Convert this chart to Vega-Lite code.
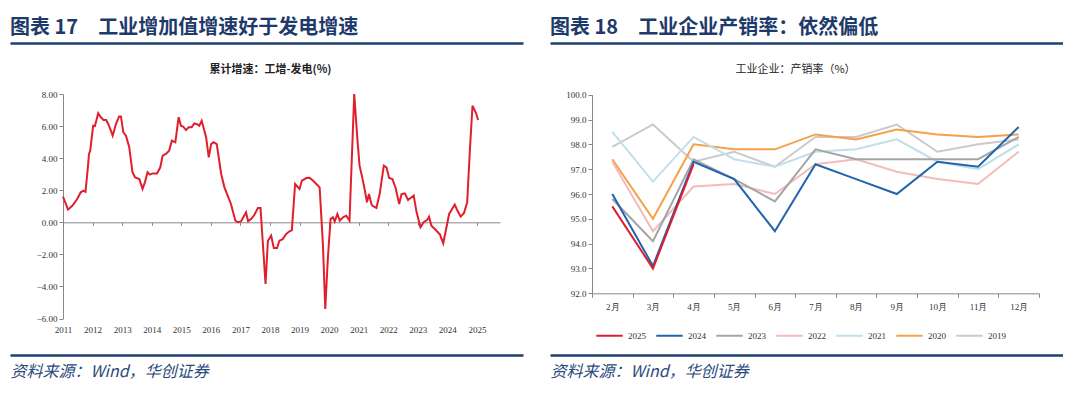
{
  "$schema": "https://vega.github.io/schema/vega-lite/v6.json",
  "padding": {"left": 10, "top": 18, "right": 0, "bottom": 20},
  "config": {"view": {"stroke": null}, "font": "Noto Sans CJK SC"},
  "spacing": 27,
  "resolve": {"scale": {"color": "independent"}, "legend": {"color": "independent"}},
  "hconcat": [
    {
      "width": 513,
      "height": 312,
      "title": {"text": "图表 17　工业增加值增速好于发电增速", "anchor": "start", "frame": "group", "fontSize": 20, "fontWeight": "bold", "color": "#1d3a6b", "font": "Noto Sans CJK SC", "offset": 2},
      "layer": [
        {
          "data": {"values": [{"edge": 0}, {"edge": 1}]},
          "mark": {"type": "point", "opacity": 0},
          "encoding": {
            "y": {"field": "edge", "type": "quantitative", "scale": {"domain": [0, 1], "nice": false},
              "axis": {"orient": "right", "grid": true, "gridColor": "#1f3e74", "gridWidth": 2.5, "values": [0, 1], "labels": false, "ticks": false, "domain": false, "title": null}}
          }
        },
        {
          "data": {"values": [
            {"t": 2011.00, "v": 1.6}, {"t": 2011.17, "v": 0.79}, {"t": 2011.32, "v": 1.04}, {"t": 2011.48, "v": 1.45}, {"t": 2011.60, "v": 1.87}, {"t": 2011.69, "v": 1.97}, {"t": 2011.76, "v": 1.9}, {"t": 2011.82, "v": 3.0}, {"t": 2011.88, "v": 4.26}, {"t": 2011.92, "v": 4.46},
            {"t": 2012.02, "v": 6.02}, {"t": 2012.08, "v": 6.0}, {"t": 2012.19, "v": 6.8}, {"t": 2012.28, "v": 6.55}, {"t": 2012.37, "v": 6.38}, {"t": 2012.46, "v": 6.38}, {"t": 2012.53, "v": 6.13}, {"t": 2012.62, "v": 5.71}, {"t": 2012.68, "v": 5.4}, {"t": 2012.79, "v": 6.13}, {"t": 2012.90, "v": 6.6}, {"t": 2012.96, "v": 6.6},
            {"t": 2013.04, "v": 5.61}, {"t": 2013.13, "v": 5.4}, {"t": 2013.24, "v": 4.68}, {"t": 2013.35, "v": 3.12}, {"t": 2013.44, "v": 2.8}, {"t": 2013.58, "v": 2.7}, {"t": 2013.69, "v": 2.08}, {"t": 2013.77, "v": 2.49}, {"t": 2013.86, "v": 3.12}, {"t": 2013.94, "v": 2.97},
            {"t": 2014.03, "v": 3.05}, {"t": 2014.18, "v": 3.05}, {"t": 2014.29, "v": 3.43}, {"t": 2014.37, "v": 4.15}, {"t": 2014.48, "v": 4.26}, {"t": 2014.59, "v": 4.46}, {"t": 2014.68, "v": 5.09}, {"t": 2014.80, "v": 4.99}, {"t": 2014.91, "v": 6.55}, {"t": 2014.99, "v": 6.02},
            {"t": 2015.07, "v": 5.96}, {"t": 2015.16, "v": 5.75}, {"t": 2015.25, "v": 5.92}, {"t": 2015.35, "v": 5.92}, {"t": 2015.44, "v": 6.17}, {"t": 2015.55, "v": 6.1}, {"t": 2015.61, "v": 6.02}, {"t": 2015.69, "v": 6.33}, {"t": 2015.84, "v": 5.3}, {"t": 2015.93, "v": 4.05},
            {"t": 2016.01, "v": 4.88}, {"t": 2016.09, "v": 4.99}, {"t": 2016.20, "v": 4.88}, {"t": 2016.35, "v": 3.01}, {"t": 2016.46, "v": 2.18}, {"t": 2016.57, "v": 1.66}, {"t": 2016.68, "v": 1.14}, {"t": 2016.83, "v": 0.1}, {"t": 2016.91, "v": 0.0},
            {"t": 2017.02, "v": 0.05}, {"t": 2017.19, "v": 0.62}, {"t": 2017.26, "v": 0.06}, {"t": 2017.36, "v": 0.2}, {"t": 2017.47, "v": 0.45}, {"t": 2017.59, "v": 0.89}, {"t": 2017.68, "v": 0.89}, {"t": 2017.85, "v": -3.85}, {"t": 2017.93, "v": -1.15},
            {"t": 2018.04, "v": -0.83}, {"t": 2018.13, "v": -1.6}, {"t": 2018.24, "v": -1.6}, {"t": 2018.32, "v": -1.15}, {"t": 2018.43, "v": -1.05}, {"t": 2018.55, "v": -0.73}, {"t": 2018.66, "v": -0.56}, {"t": 2018.74, "v": -0.5}, {"t": 2018.85, "v": 2.39},
            {"t": 2019.00, "v": 2.08}, {"t": 2019.08, "v": 2.6}, {"t": 2019.23, "v": 2.76}, {"t": 2019.34, "v": 2.78}, {"t": 2019.45, "v": 2.6}, {"t": 2019.57, "v": 2.39}, {"t": 2019.68, "v": 2.18}, {"t": 2019.79, "v": -1.35}, {"t": 2019.87, "v": -5.4}, {"t": 2019.96, "v": -2.18},
            {"t": 2020.05, "v": 0.2}, {"t": 2020.13, "v": 0.31}, {"t": 2020.19, "v": 0.05}, {"t": 2020.28, "v": 0.52}, {"t": 2020.36, "v": 0.1}, {"t": 2020.47, "v": 0.31}, {"t": 2020.58, "v": 0.41}, {"t": 2020.69, "v": 0.1}, {"t": 2020.85, "v": 16.0}, {"t": 2020.96, "v": 5.09},
            {"t": 2021.03, "v": 3.53}, {"t": 2021.12, "v": 2.8}, {"t": 2021.20, "v": 2.08}, {"t": 2021.28, "v": 1.25}, {"t": 2021.35, "v": 1.76}, {"t": 2021.43, "v": 1.14}, {"t": 2021.46, "v": 1.04}, {"t": 2021.60, "v": 0.89}, {"t": 2021.71, "v": 1.76}, {"t": 2021.85, "v": 3.53}, {"t": 2021.94, "v": 3.43},
            {"t": 2022.03, "v": 2.76}, {"t": 2022.14, "v": 2.7}, {"t": 2022.25, "v": 2.14}, {"t": 2022.37, "v": 1.14}, {"t": 2022.45, "v": 1.76}, {"t": 2022.56, "v": 1.8}, {"t": 2022.67, "v": 1.39}, {"t": 2022.79, "v": 1.56}, {"t": 2022.86, "v": 1.66}, {"t": 2022.96, "v": 0.62},
            {"t": 2023.09, "v": -0.31}, {"t": 2023.20, "v": 0.0}, {"t": 2023.32, "v": 0.15}, {"t": 2023.38, "v": 0.35}, {"t": 2023.46, "v": -0.21}, {"t": 2023.61, "v": -0.48}, {"t": 2023.75, "v": -0.77}, {"t": 2023.86, "v": -1.31}, {"t": 2023.97, "v": -0.31},
            {"t": 2024.06, "v": 0.52}, {"t": 2024.14, "v": 0.77}, {"t": 2024.25, "v": 1.1}, {"t": 2024.33, "v": 0.77}, {"t": 2024.45, "v": 0.35}, {"t": 2024.56, "v": 0.56}, {"t": 2024.67, "v": 1.25}, {"t": 2024.76, "v": 4.46}, {"t": 2024.85, "v": 7.27}, {"t": 2024.97, "v": 6.8},
            {"t": 2025.04, "v": 6.38}
          ]},
          "mark": {"type": "line", "color": "#e01f2d", "strokeWidth": 2},
          "encoding": {
            "x": {"field": "t", "type": "quantitative",
              "scale": {"domain": [2011, 2025.78], "range": [53, 490], "nice": false, "zero": false},
              "axis": {"values": [2011, 2012, 2013, 2014, 2015, 2016, 2017, 2018, 2019, 2020, 2021, 2022, 2023, 2024, 2025], "format": "d", "offset": -132.7, "labelPadding": 100, "tickSize": 3, "tickColor": "#888888", "domainColor": "#888888", "labelFont": "Liberation Serif", "labelFontSize": 9, "labelColor": "#333333", "grid": false, "labelFlush": false,
                "title": "资料来源：Wind，华创证券", "titleX": 0, "titleY": 149, "titleAlign": "left", "titleBaseline": "middle", "titleFontSize": 16, "titleFontWeight": "normal", "titleFontStyle": "italic", "titleColor": "#2b4a7c", "titleFont": "Noto Sans CJK SC"}},
            "y": {"field": "v", "type": "quantitative",
              "scale": {"domain": [-6, 8], "range": [275.5, 51], "nice": false, "zero": false, "clamp": true},
              "axis": {"orient": "left", "values": [-6, -4, -2, 0, 2, 4, 6, 8], "format": ".2f", "offset": -53, "grid": false, "tickSize": 4, "tickColor": "#888888", "domainColor": "#888888", "labelFont": "Liberation Serif", "labelFontSize": 9, "labelColor": "#333333",
                "title": "累计增速：工增-发电(%)", "titleAngle": 0, "titleX": 207, "titleY": 26, "titleAlign": "center", "titleBaseline": "middle", "titleFontSize": 11, "titleFontWeight": "bold", "titleColor": "#222222", "titleFont": "Noto Sans CJK SC"}}
          }
        }
      ],
      "resolve": {"scale": {"y": "independent"}, "axis": {"y": "independent"}}
    },
    {
      "width": 513,
      "height": 312,
      "title": {"text": "图表 18　工业企业产销率：依然偏低", "anchor": "start", "frame": "group", "fontSize": 20, "fontWeight": "bold", "color": "#1d3a6b", "font": "Noto Sans CJK SC", "offset": 2},
      "layer": [
        {
          "data": {"values": [{"edge": 0}, {"edge": 1}]},
          "mark": {"type": "point", "opacity": 0},
          "encoding": {
            "y": {"field": "edge", "type": "quantitative", "scale": {"domain": [0, 1], "nice": false},
              "axis": {"orient": "right", "grid": true, "gridColor": "#1f3e74", "gridWidth": 2.5, "values": [0, 1], "labels": false, "ticks": false, "domain": false, "title": null}}
          }
        },
        {
          "data": {"values": [
            {"year": "2019", "month": "2月", "rate": 97.9}, {"year": "2019", "month": "3月", "rate": 98.8}, {"year": "2019", "month": "4月", "rate": 97.3}, {"year": "2019", "month": "5月", "rate": 97.7}, {"year": "2019", "month": "6月", "rate": 97.1}, {"year": "2019", "month": "7月", "rate": 98.3}, {"year": "2019", "month": "8月", "rate": 98.3}, {"year": "2019", "month": "9月", "rate": 98.8}, {"year": "2019", "month": "10月", "rate": 97.7}, {"year": "2019", "month": "11月", "rate": 98.0}, {"year": "2019", "month": "12月", "rate": 98.2},
            {"year": "2020", "month": "2月", "rate": 97.4}, {"year": "2020", "month": "3月", "rate": 95.0}, {"year": "2020", "month": "4月", "rate": 98.0}, {"year": "2020", "month": "5月", "rate": 97.8}, {"year": "2020", "month": "6月", "rate": 97.8}, {"year": "2020", "month": "7月", "rate": 98.4}, {"year": "2020", "month": "8月", "rate": 98.2}, {"year": "2020", "month": "9月", "rate": 98.6}, {"year": "2020", "month": "10月", "rate": 98.4}, {"year": "2020", "month": "11月", "rate": 98.3}, {"year": "2020", "month": "12月", "rate": 98.4},
            {"year": "2021", "month": "2月", "rate": 98.5}, {"year": "2021", "month": "3月", "rate": 96.5}, {"year": "2021", "month": "4月", "rate": 98.3}, {"year": "2021", "month": "5月", "rate": 97.4}, {"year": "2021", "month": "6月", "rate": 97.1}, {"year": "2021", "month": "7月", "rate": 97.7}, {"year": "2021", "month": "8月", "rate": 97.8}, {"year": "2021", "month": "9月", "rate": 98.2}, {"year": "2021", "month": "10月", "rate": 97.3}, {"year": "2021", "month": "11月", "rate": 97.0}, {"year": "2021", "month": "12月", "rate": 98.0},
            {"year": "2022", "month": "2月", "rate": 97.3}, {"year": "2022", "month": "3月", "rate": 94.5}, {"year": "2022", "month": "4月", "rate": 96.3}, {"year": "2022", "month": "5月", "rate": 96.4}, {"year": "2022", "month": "6月", "rate": 96.0}, {"year": "2022", "month": "7月", "rate": 97.2}, {"year": "2022", "month": "8月", "rate": 97.4}, {"year": "2022", "month": "9月", "rate": 96.9}, {"year": "2022", "month": "10月", "rate": 96.6}, {"year": "2022", "month": "11月", "rate": 96.4}, {"year": "2022", "month": "12月", "rate": 97.7},
            {"year": "2023", "month": "2月", "rate": 95.8}, {"year": "2023", "month": "3月", "rate": 94.1}, {"year": "2023", "month": "4月", "rate": 97.4}, {"year": "2023", "month": "5月", "rate": 96.6}, {"year": "2023", "month": "6月", "rate": 95.7}, {"year": "2023", "month": "7月", "rate": 97.8}, {"year": "2023", "month": "8月", "rate": 97.4}, {"year": "2023", "month": "9月", "rate": 97.4}, {"year": "2023", "month": "10月", "rate": 97.4}, {"year": "2023", "month": "11月", "rate": 97.4}, {"year": "2023", "month": "12月", "rate": 98.3},
            {"year": "2024", "month": "2月", "rate": 96.0}, {"year": "2024", "month": "3月", "rate": 93.1}, {"year": "2024", "month": "4月", "rate": 97.3}, {"year": "2024", "month": "5月", "rate": 96.6}, {"year": "2024", "month": "6月", "rate": 94.5}, {"year": "2024", "month": "7月", "rate": 97.2}, {"year": "2024", "month": "8月", "rate": 96.6}, {"year": "2024", "month": "9月", "rate": 96.0}, {"year": "2024", "month": "10月", "rate": 97.3}, {"year": "2024", "month": "11月", "rate": 97.1}, {"year": "2024", "month": "12月", "rate": 98.7},
            {"year": "2025", "month": "2月", "rate": 95.5}, {"year": "2025", "month": "3月", "rate": 93.0}, {"year": "2025", "month": "4月", "rate": 97.2}
          ]},
          "mark": {"type": "line", "strokeWidth": 2},
          "encoding": {
            "x": {"field": "month", "type": "ordinal", "sort": ["2月", "3月", "4月", "5月", "6月", "7月", "8月", "9月", "10月", "11月", "12月"],
              "scale": {"type": "band", "range": [42, 489], "paddingInner": 0, "paddingOuter": 0},
              "axis": {"tickBand": "extent", "offset": -61.7, "labelPadding": 5, "tickSize": 4, "tickColor": "#888888", "domainColor": "#888888", "labelFont": "Liberation Serif", "labelFontSize": 9, "labelColor": "#333333", "labelAngle": 0, "grid": false,
                "title": "资料来源：Wind，华创证券", "titleX": 0, "titleY": 78, "titleAlign": "left", "titleBaseline": "middle", "titleFontSize": 16, "titleFontWeight": "normal", "titleFontStyle": "italic", "titleColor": "#2b4a7c", "titleFont": "Noto Sans CJK SC"}},
            "y": {"field": "rate", "type": "quantitative",
              "scale": {"domain": [92, 100], "range": [250.3, 51.7], "nice": false, "zero": false},
              "axis": {"orient": "left", "values": [92, 93, 94, 95, 96, 97, 98, 99, 100], "format": ".1f", "offset": -42, "grid": false, "tickSize": 4, "tickColor": "#888888", "domainColor": "#888888", "labelFont": "Liberation Serif", "labelFontSize": 9, "labelColor": "#333333",
                "title": "工业企业：产销率（%）", "titleAngle": 0, "titleX": 203, "titleY": 26, "titleAlign": "center", "titleBaseline": "middle", "titleFontSize": 11, "titleFontWeight": "normal", "titleColor": "#222222", "titleFont": "Noto Sans CJK SC"}},
            "color": {"field": "year", "type": "nominal",
              "scale": {"domain": ["2025", "2024", "2023", "2022", "2021", "2020", "2019"], "range": ["#dc1f2c", "#1f64ae", "#a5a5a5", "#f2bcbc", "#bfe0ea", "#f5a04a", "#cacaca"]},
              "legend": {"orient": "none", "legendX": 45, "legendY": 278, "direction": "horizontal", "columns": 7, "symbolType": "stroke", "symbolSize": 700, "symbolStrokeWidth": 2, "title": null, "labelFont": "Liberation Serif", "labelFontSize": 9, "labelColor": "#333333", "columnPadding": 6}}
          }
        }
      ],
      "resolve": {"scale": {"y": "independent"}, "axis": {"y": "independent"}}
    }
  ]
}
